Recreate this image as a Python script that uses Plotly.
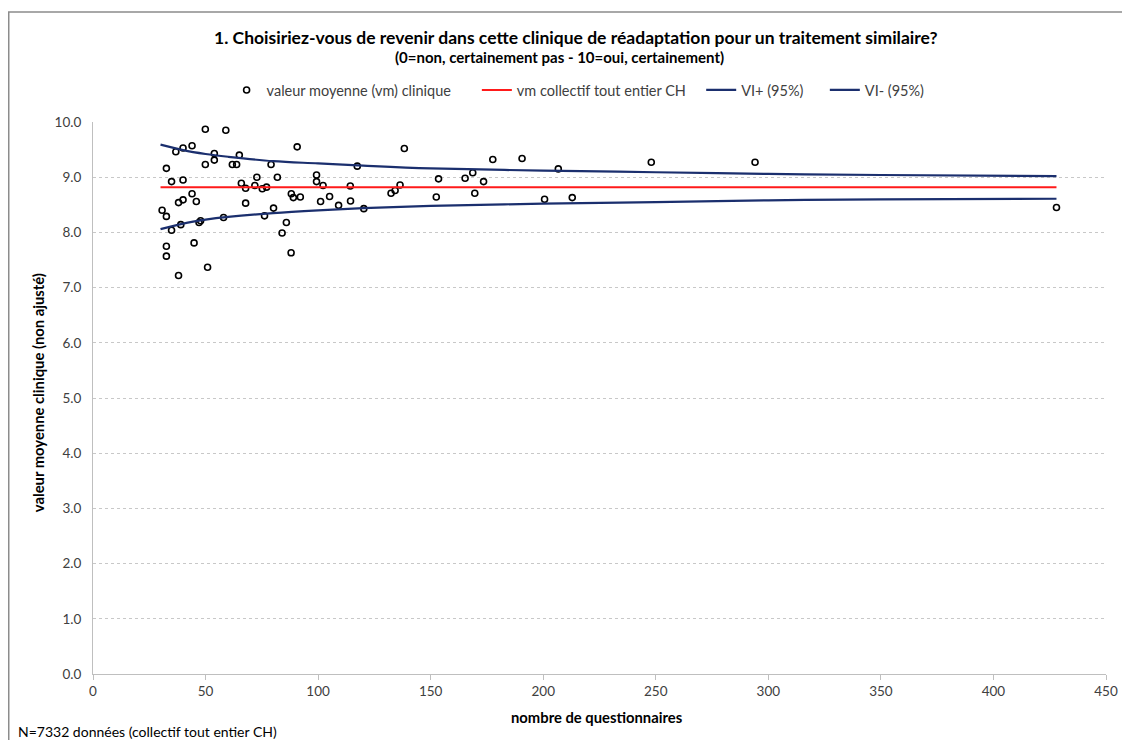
import plotly.graph_objects as go

# ---- data ----
clinic_n = [49.9, 59.0, 40.0, 44.0, 36.8, 53.9, 53.9, 65.0, 49.9, 61.9, 63.8, 79.1, 90.7,
            32.6, 34.9, 40.0, 65.9, 67.8, 71.9, 72.8, 75.2, 77.1, 81.9, 44.0, 45.9, 40.0,
            38.0, 67.8, 30.7, 32.6, 80.2, 88.1, 89.0, 39.0, 47.1, 47.8, 58.0, 76.2, 85.9,
            34.9, 84.0, 32.6, 32.6, 44.9, 88.0, 38.0, 50.9,
            138.3, 117.4, 99.3, 99.3, 102.2, 114.3, 92.1, 101.1, 105.1, 109.1, 114.4, 120.3,
            132.4, 134.2, 136.4, 153.5, 165.3, 152.5,
            168.7, 173.5, 177.6, 190.6, 169.6, 206.7, 200.6, 212.9, 248.0, 294.1, 428.0]
clinic_vm = [9.87, 9.85, 9.53, 9.57, 9.46, 9.43, 9.31, 9.40, 9.23, 9.23, 9.23, 9.23, 9.55,
             9.16, 8.92, 8.95, 8.89, 8.80, 8.85, 9.00, 8.79, 8.82, 9.00, 8.70, 8.56, 8.59,
             8.54, 8.53, 8.40, 8.29, 8.44, 8.70, 8.63, 8.14, 8.18, 8.21, 8.27, 8.30, 8.18,
             8.04, 7.99, 7.75, 7.57, 7.81, 7.63, 7.22, 7.37,
             9.52, 9.20, 9.04, 8.92, 8.85, 8.84, 8.64, 8.56, 8.65, 8.49, 8.57, 8.43,
             8.71, 8.76, 8.86, 8.97, 8.98, 8.64,
             9.08, 8.92, 9.32, 9.34, 8.71, 9.15, 8.60, 8.63, 9.27, 9.27, 8.45]

mean_n = [30, 428]
mean_vm = [8.82, 8.82]

ci_n = [30, 40, 50, 60, 80, 100, 120, 150, 200, 250, 300, 350, 428]
ci_upper = [9.59, 9.49, 9.42, 9.37, 9.29, 9.25, 9.21, 9.16, 9.12, 9.09, 9.06, 9.04, 9.02]
ci_lower = [8.06, 8.16, 8.23, 8.28, 8.35, 8.40, 8.44, 8.48, 8.52, 8.55, 8.58, 8.60, 8.61]

x_ticks = [0, 50, 100, 150, 200, 250, 300, 350, 400, 450]
y_ticks = [0, 1, 2, 3, 4, 5, 6, 7, 8, 9, 10]

title_text = "1. Choisiriez-vous de revenir dans cette clinique de réadaptation pour un traitement similaire?"
subtitle_text = "(0=non, certainement pas - 10=oui, certainement)"
footer_text = "N=7332 données (collectif tout entier CH)"

FONT = "Lato"
NAVY = "#1b2f6e"
TXT = "#404040"

# page geometry (the page body adds an 8 px offset)
OFF = 8
W, H = 1130 - OFF, 740 - OFF
PL, PR, PT, PB = 93, 1109, 122, 674          # plot area in page pixels
PW, PH = PR - PL, PB - PT


def px(x):
    return (x - PL) / PW


def py(y):
    return (PB - y) / PH


fig = go.Figure()
fig.add_trace(go.Scatter(
    x=clinic_n, y=clinic_vm, mode="markers", name="valeur moyenne (vm) clinique",
    marker=dict(symbol="circle-open", size=6, color="#000000", line=dict(width=1.6, color="#000000")),
    legend="legend"))
fig.add_trace(go.Scatter(
    x=mean_n, y=mean_vm, mode="lines", name="vm collectif tout entier CH",
    line=dict(color="#ff1a1a", width=2), legend="legend2"))
fig.add_trace(go.Scatter(
    x=ci_n, y=ci_upper, mode="lines", name="VI+ (95%)",
    line=dict(color=NAVY, width=2.2, shape="spline", smoothing=1.0), legend="legend3"))
fig.add_trace(go.Scatter(
    x=ci_n, y=ci_lower, mode="lines", name="VI- (95%)",
    line=dict(color=NAVY, width=2.2, shape="spline", smoothing=1.0), legend="legend4"))

leg_common = dict(orientation="h", xanchor="left", yanchor="middle", y=py(90),
                  font=dict(family=FONT, size=14.5, color=TXT), bgcolor="rgba(0,0,0,0)")

fig.update_layout(
    width=W, height=H,
    margin=dict(l=PL - OFF, r=W - (PR - OFF), t=PT - OFF, b=H - (PB - OFF)),
    paper_bgcolor="white", plot_bgcolor="white",
    font=dict(family=FONT, size=13, color=TXT),
    showlegend=True,
    legend=dict(x=px(227), **leg_common),
    legend2=dict(x=px(478), **leg_common),
    legend3=dict(x=px(703), **leg_common),
    legend4=dict(x=px(827), **leg_common),
    xaxis=dict(range=[0, 450], tickvals=x_ticks, showgrid=False, zeroline=False,
               showline=True, linecolor="#bfbfbf", linewidth=1,
               ticks="outside", ticklen=5, tickcolor="#bfbfbf",
               tickfont=dict(size=13.5, color=TXT)),
    yaxis=dict(range=[0, 10], tickvals=y_ticks, tickformat=".1f", showgrid=True,
               gridcolor="#c8c8c8", griddash="dot", gridwidth=1, zeroline=False,
               showline=True, linecolor="#bfbfbf", linewidth=1, ticks="",
               ticklabelstandoff=8,
               tickfont=dict(size=13.5, color=TXT)),
    annotations=[
        dict(text="<b>" + title_text + "</b>", xref="paper", yref="paper", x=px(577), y=py(37),
             showarrow=False, font=dict(size=17.5, color="#000000"), xanchor="center", yanchor="middle"),
        dict(text="<b>" + subtitle_text + "</b>", xref="paper", yref="paper", x=px(561), y=py(57),
             showarrow=False, font=dict(size=15, color="#000000"), xanchor="center", yanchor="middle"),
        dict(text="<b>nombre de questionnaires</b>", xref="paper", yref="paper", x=px(598), y=py(717),
             showarrow=False, font=dict(size=14.8, color="#000000"), xanchor="center", yanchor="middle"),
        dict(text="<b>valeur moyenne clinique (non ajusté)</b>", xref="paper", yref="paper",
             x=px(38), y=py(393), textangle=-90, showarrow=False,
             font=dict(size=14.8, color="#000000"), xanchor="center", yanchor="middle"),
        dict(text=footer_text, xref="paper", yref="paper", x=px(16), y=py(731),
             showarrow=False, font=dict(size=14, color="#000000"), xanchor="left", yanchor="middle"),
    ],
    shapes=[
        dict(type="rect", xref="paper", yref="paper",
             x0=px(8.5), x1=px(1160), y0=py(780), y1=py(12),
             line=dict(color="#8c8c8c", width=1.5), fillcolor="rgba(0,0,0,0)", layer="below"),
    ],
)

fig.write_html("out.html")
